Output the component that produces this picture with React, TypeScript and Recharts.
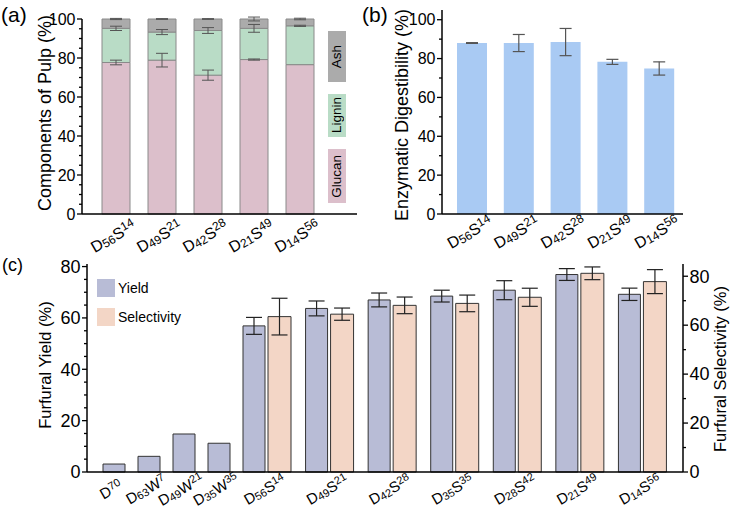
import React from 'react';
import { BarChart, Bar, XAxis, YAxis, ErrorBar, Legend } from 'recharts';

const FONT = "'Liberation Sans', Arial, sans-serif";

// (a) pulp composition
const pulpCats = ['D56S14', 'D49S21', 'D42S28', 'D21S49', 'D14S56'];
const glucan = [77.7, 78.9, 71.2, 79.2, 76.6];
const glucanErr = [1.2, 3.5, 2.6, 0.3, 0];
const lignin = [17.5, 14.4, 22.9, 16.0, 19.9];
const ligninErr = [1.1, 1.3, 1.5, 2.0, 0.3];
const ash = [4.8, 6.7, 5.9, 4.8, 3.5];
const ashErr = [0.3, 0.2, 0.2, 1.0, 0.4];
const pulpTicks = [0, 5, 10, 15, 20, 25, 30, 35, 40, 45, 50, 55, 60, 65, 70, 75, 80, 85, 90, 95, 100];
const pulpLegendOrder = ['Ash', 'Lignin', 'Glucan'];

// (b) enzymatic digestibility
const digest = [88.0, 88.0, 88.5, 78.3, 74.9];
const digestErr = [0.2, 4.4, 7.0, 1.3, 3.4];
const digestTicks = [0, 10, 20, 30, 40, 50, 60, 70, 80, 90, 100];

// (c) furfural yield / selectivity
const solventCats = ['D70', 'D63W7', 'D49W21', 'D35W35'];
const solventYield = [3.1, 6.1, 14.8, 11.2];
const binaryCats = ['D56S14', 'D49S21', 'D42S28', 'D35S35', 'D28S42', 'D21S49', 'D14S56'];
const binaryYield = [56.9, 63.7, 67.0, 68.5, 70.8, 76.9, 69.2];
const binaryYieldErr = [3.3, 2.9, 2.7, 2.3, 3.7, 2.3, 2.4];
const binarySel = [63.5, 64.5, 68.1, 68.9, 71.4, 81.2, 77.8];
const binarySelErr = [7.5, 2.5, 3.4, 3.4, 3.7, 2.6, 4.9];
const yieldTicks = [0, 5, 10, 15, 20, 25, 30, 35, 40, 45, 50, 55, 60, 65, 70, 75, 80];
const selTicks = [0, 10, 20, 30, 40, 50, 60, 70, 80];
const furfuralLegendOrder = ['Yield', 'Selectivity'];

const pulpData = pulpCats.map((name, i) => ({
  name,
  glucan: glucan[i],
  glucanErr: glucanErr[i],
  lignin: lignin[i],
  ligninErr: ligninErr[i],
  ash: ash[i],
  ashErr: ashErr[i],
}));
const digestData = pulpCats.map((name, i) => ({ name, digest: digest[i], err: digestErr[i] }));
const solventData = solventCats.map((name, i) => ({ name, yield: solventYield[i] }));
const binaryData = binaryCats.map((name, i) => ({
  name,
  yield: binaryYield[i],
  yieldErr: binaryYieldErr[i],
  sel: binarySel[i],
  selErr: binarySelErr[i],
}));

const AXIS = { stroke: '#000', strokeWidth: 1.5 };
const COS30 = 0.866;
const SIN30 = 0.5;

// category label like D56S14: letters full size, first number low, last number raised
function CatTick(props: any) {
  const x = Number(props.x) || 0;
  const y = Number(props.y) || 0;
  const fs = props.fs ?? 16;
  const off = props.off ?? 20;
  const parts: string[] = String(props.payload?.value ?? '').match(/[A-Z]+|\d+/g) || [];
  const nums = parts.filter((p) => /\d/.test(p)).length;
  const small = Math.round(fs * 0.75);
  let group = 0;
  let shift = 0;
  const spans = parts.map((p, i) => {
    const isNum = /\d/.test(p);
    let target = 0;
    if (isNum) {
      const low = nums > 1 && group === 0;
      target = low ? 1 : -fs * 0.3;
      group++;
    }
    const d = target - shift;
    shift = target;
    return (
      <tspan key={i} dy={d} fontSize={isNum ? small : fs}>
        {p}
      </tspan>
    );
  });
  const cy = y + off;
  const m = `matrix(${COS30} ${-SIN30} ${SIN30} ${COS30} ${x.toFixed(2)} ${cy.toFixed(2)})`;
  return (
    <g transform={m}>
      <text x={0} y={0} textAnchor="middle" fontFamily={FONT} fontSize={fs} fill="#000">
        {spans}
      </text>
    </g>
  );
}

function YTick({ x = 0, y = 0, payload, side = 'left', majorEvery = 20, fs = 16 }: any) {
  const v = Number(payload?.value);
  const major = Math.abs(v % majorEvery) < 1e-6;
  const dir = side === 'left' ? -1 : 1;
  const len = major ? 5 : 3;
  return (
    <g>
      <line x1={x} x2={x + dir * len} y1={y} y2={y} stroke="#000" strokeWidth={1.3} />
      {major && (
        <text
          x={x + dir * (len + 1.5)}
          y={y}
          dy="0.35em"
          textAnchor={side === 'left' ? 'end' : 'start'}
          fontSize={fs}
          fontFamily={FONT}
          fill="#000"
        >
          {v}
        </text>
      )}
    </g>
  );
}

function VTitle({ cx, cy, text, fs }: any) {
  return (
    <text
      x={cx}
      y={cy}
      transform={`rotate(-90 ${cx} ${cy})`}
      textAnchor="middle"
      dominantBaseline="central"
      fontSize={fs}
      fontFamily={FONT}
      fill="#000"
    >
      {text}
    </text>
  );
}

const ordered = (payload: any[], order: string[]) =>
  order.map((name) => (payload || []).find((it: any) => it.value === name)).filter(Boolean);

const pulpBoxHeights = [51, 43, 54];

function PulpLegend({ payload }: any) {
  const items = ordered(payload, pulpLegendOrder);
  return (
    <div style={{ display: 'flex', flexDirection: 'column', gap: 12 }}>
      {items.map((it: any, i: number) => (
        <div
          key={it.value}
          style={{
            width: 18,
            height: pulpBoxHeights[i],
            background: it.color,
            display: 'flex',
            alignItems: 'center',
            justifyContent: 'center',
          }}
        >
          <span
            style={{
              writingMode: 'vertical-rl',
              transform: 'rotate(180deg)',
              fontFamily: FONT,
              fontSize: 13.5,
              color: '#000',
              lineHeight: '18px',
            }}
          >
            {it.value}
          </span>
        </div>
      ))}
    </div>
  );
}

function FurfuralLegend({ payload }: any) {
  const items = ordered(payload, furfuralLegendOrder);
  return (
    <div style={{ display: 'flex', flexDirection: 'column', gap: 11 }}>
      {items.map((it: any) => (
        <div key={it.value} style={{ display: 'flex', alignItems: 'center', height: 18 }}>
          <div style={{ width: 18, height: 18, background: it.color }} />
          <span style={{ marginLeft: 3, fontFamily: FONT, fontSize: 14, color: '#000' }}>{it.value}</span>
        </div>
      ))}
    </div>
  );
}

const panelLabel = (text: string, left: number, top: number, size: number) => (
  <div
    style={{
      position: 'absolute',
      left,
      top,
      fontFamily: FONT,
      fontSize: size,
      lineHeight: `${size}px`,
      color: '#000',
    }}
  >
    {text}
  </div>
);

export default function App() {
  return (
    <div style={{ position: 'absolute', left: 0, top: 0, width: 732, height: 518, background: '#fff' }}>
      {/* (a) */}
      <div style={{ position: 'absolute', left: 0, top: 0 }}>
        <BarChart width={370} height={265} data={pulpData} margin={{ top: 19, right: 13, left: 22, bottom: 0 }}>
          <XAxis
            dataKey="name"
            interval={0}
            height={51}
            padding={{ left: 11, right: 34 }}
            tickLine={false}
            tickSize={0}
            tickMargin={0}
            axisLine={AXIS}
            tick={<CatTick fs={16} off={27} />}
          />
          <XAxis xAxisId="top" dataKey="name" orientation="top" height={0} tick={false} tickLine={false} axisLine={AXIS} />
          <YAxis
            domain={[0, 100]}
            ticks={pulpTicks}
            interval={0}
            width={60}
            tickLine={false}
            tickSize={0}
            tickMargin={0}
            axisLine={AXIS}
            tick={<YTick side="left" majorEvery={20} fs={16} />}
            label={<VTitle cx={45} cy={113} text="Components of Pulp (%)" fs={18} />}
          />
          <YAxis yAxisId="frame" orientation="right" domain={[0, 100]} width={0} tick={false} tickLine={false} axisLine={AXIS} />
          <Legend
            layout="horizontal"
            verticalAlign="middle"
            align="center"
            wrapperStyle={{ left: 328, top: 31, width: 18, height: 'auto' }}
            content={(p: any) => <PulpLegend payload={p.payload} />}
          />
          <Bar dataKey="glucan" name="Glucan" stackId="s" barSize={28} fill="#dcbfcb" stroke="#8a8a8a" strokeWidth={1} isAnimationActive={false}>
            <ErrorBar dataKey="glucanErr" width={6} stroke="#555" strokeWidth={1} />
          </Bar>
          <Bar dataKey="lignin" name="Lignin" stackId="s" barSize={28} fill="#b9dcc6" stroke="#8a8a8a" strokeWidth={1} isAnimationActive={false}>
            <ErrorBar dataKey="ligninErr" width={6} stroke="#555" strokeWidth={1} />
          </Bar>
          <Bar dataKey="ash" name="Ash" stackId="s" barSize={28} fill="#ababab" stroke="#8a8a8a" strokeWidth={1} isAnimationActive={false}>
            <ErrorBar dataKey="ashErr" width={6} stroke="#555" strokeWidth={1} />
          </Bar>
        </BarChart>
      </div>

      {/* (b) */}
      <div style={{ position: 'absolute', left: 360, top: 0 }}>
        <BarChart width={372} height={265} data={digestData} margin={{ top: 10, right: 49, left: 22, bottom: 0 }}>
          <XAxis
            dataKey="name"
            interval={0}
            height={51}
            padding={{ left: 7, right: 0 }}
            tickLine={false}
            tickSize={0}
            tickMargin={0}
            axisLine={AXIS}
            tick={<CatTick fs={16} off={23} />}
          />
          <XAxis xAxisId="top" dataKey="name" orientation="top" height={0} tick={false} tickLine={false} axisLine={AXIS} />
          <YAxis
            domain={[0, 105]}
            ticks={digestTicks}
            interval={0}
            width={60}
            tickLine={false}
            tickSize={0}
            tickMargin={0}
            axisLine={AXIS}
            tick={<YTick side="left" majorEvery={20} fs={16} />}
            label={<VTitle cx={42} cy={115} text="Enzymatic Digestibility (%)" fs={18} />}
          />
          <YAxis yAxisId="frame" orientation="right" domain={[0, 105]} width={0} tick={false} tickLine={false} axisLine={AXIS} />
          <Bar dataKey="digest" name="Enzymatic Digestibility" barSize={30} fill="#a9caf3" isAnimationActive={false}>
            <ErrorBar dataKey="err" width={6} stroke="#555" strokeWidth={1.2} />
          </Bar>
        </BarChart>
      </div>

      {/* (c) left part: single-solvent systems */}
      <div style={{ position: 'absolute', left: 0, top: 255 }}>
        <BarChart width={732} height={263} data={solventData} margin={{ top: 9, right: 496, left: 27, bottom: 0 }}>
          <XAxis
            dataKey="name"
            interval={0}
            height={46}
            padding={{ left: 9, right: 0 }}
            tickLine={false}
            tickSize={0}
            tickMargin={0}
            axisLine={AXIS}
            tick={<CatTick fs={15} off={22} />}
          />
          <XAxis xAxisId="top" dataKey="name" orientation="top" height={0} tick={false} tickLine={false} axisLine={AXIS} />
          <YAxis
            domain={[0, 81]}
            ticks={yieldTicks}
            interval={0}
            width={60}
            tickLine={false}
            tickSize={0}
            tickMargin={0}
            axisLine={AXIS}
            tick={<YTick side="left" majorEvery={20} fs={18} />}
            label={<VTitle cx={45} cy={110} text="Furfural Yield (%)" fs={16.5} />}
          />
          <Bar dataKey="yield" name="Yield" barSize={22} fill="#b8bcd6" stroke="#333" strokeWidth={1} isAnimationActive={false} />
        </BarChart>
      </div>

      {/* (c) right part: binary systems */}
      <div style={{ position: 'absolute', left: 0, top: 255 }}>
        <BarChart width={732} height={263} data={binaryData} margin={{ top: 9, right: 0, left: 236, bottom: 0 }} barGap={3}>
          <XAxis
            dataKey="name"
            interval={0}
            height={46}
            padding={{ left: 0, right: 9 }}
            tickLine={false}
            tickSize={0}
            tickMargin={0}
            axisLine={AXIS}
            tick={<CatTick fs={15} off={22} />}
          />
          <XAxis xAxisId="top" dataKey="name" orientation="top" height={0} tick={false} tickLine={false} axisLine={AXIS} />
          <YAxis yAxisId="yl" hide domain={[0, 81]} />
          <YAxis
            yAxisId="yr"
            orientation="right"
            domain={[0, 85]}
            ticks={selTicks}
            interval={0}
            width={49}
            tickLine={false}
            tickSize={0}
            tickMargin={0}
            axisLine={AXIS}
            tick={<YTick side="right" majorEvery={20} fs={18} />}
            label={<VTitle cx={720} cy={114} text="Furfural Selectivity (%)" fs={16.5} />}
          />
          <Legend
            layout="horizontal"
            verticalAlign="middle"
            align="center"
            wrapperStyle={{ left: 97, top: 24, width: 'auto', height: 'auto' }}
            content={(p: any) => <FurfuralLegend payload={p.payload} />}
          />
          <Bar yAxisId="yl" dataKey="yield" name="Yield" barSize={22} fill="#b8bcd6" stroke="#333" strokeWidth={1} isAnimationActive={false}>
            <ErrorBar dataKey="yieldErr" width={8} stroke="#222" strokeWidth={1.2} />
          </Bar>
          <Bar yAxisId="yr" dataKey="sel" name="Selectivity" barSize={23} fill="#f3d6c6" stroke="#333" strokeWidth={1} isAnimationActive={false}>
            <ErrorBar dataKey="selErr" width={8} stroke="#222" strokeWidth={1.2} />
          </Bar>
        </BarChart>
      </div>

      {panelLabel('(a)', 1, 4, 21)}
      {panelLabel('(b)', 362, 4, 21)}
      {panelLabel('(c)', 2, 256, 18)}
    </div>
  );
}
